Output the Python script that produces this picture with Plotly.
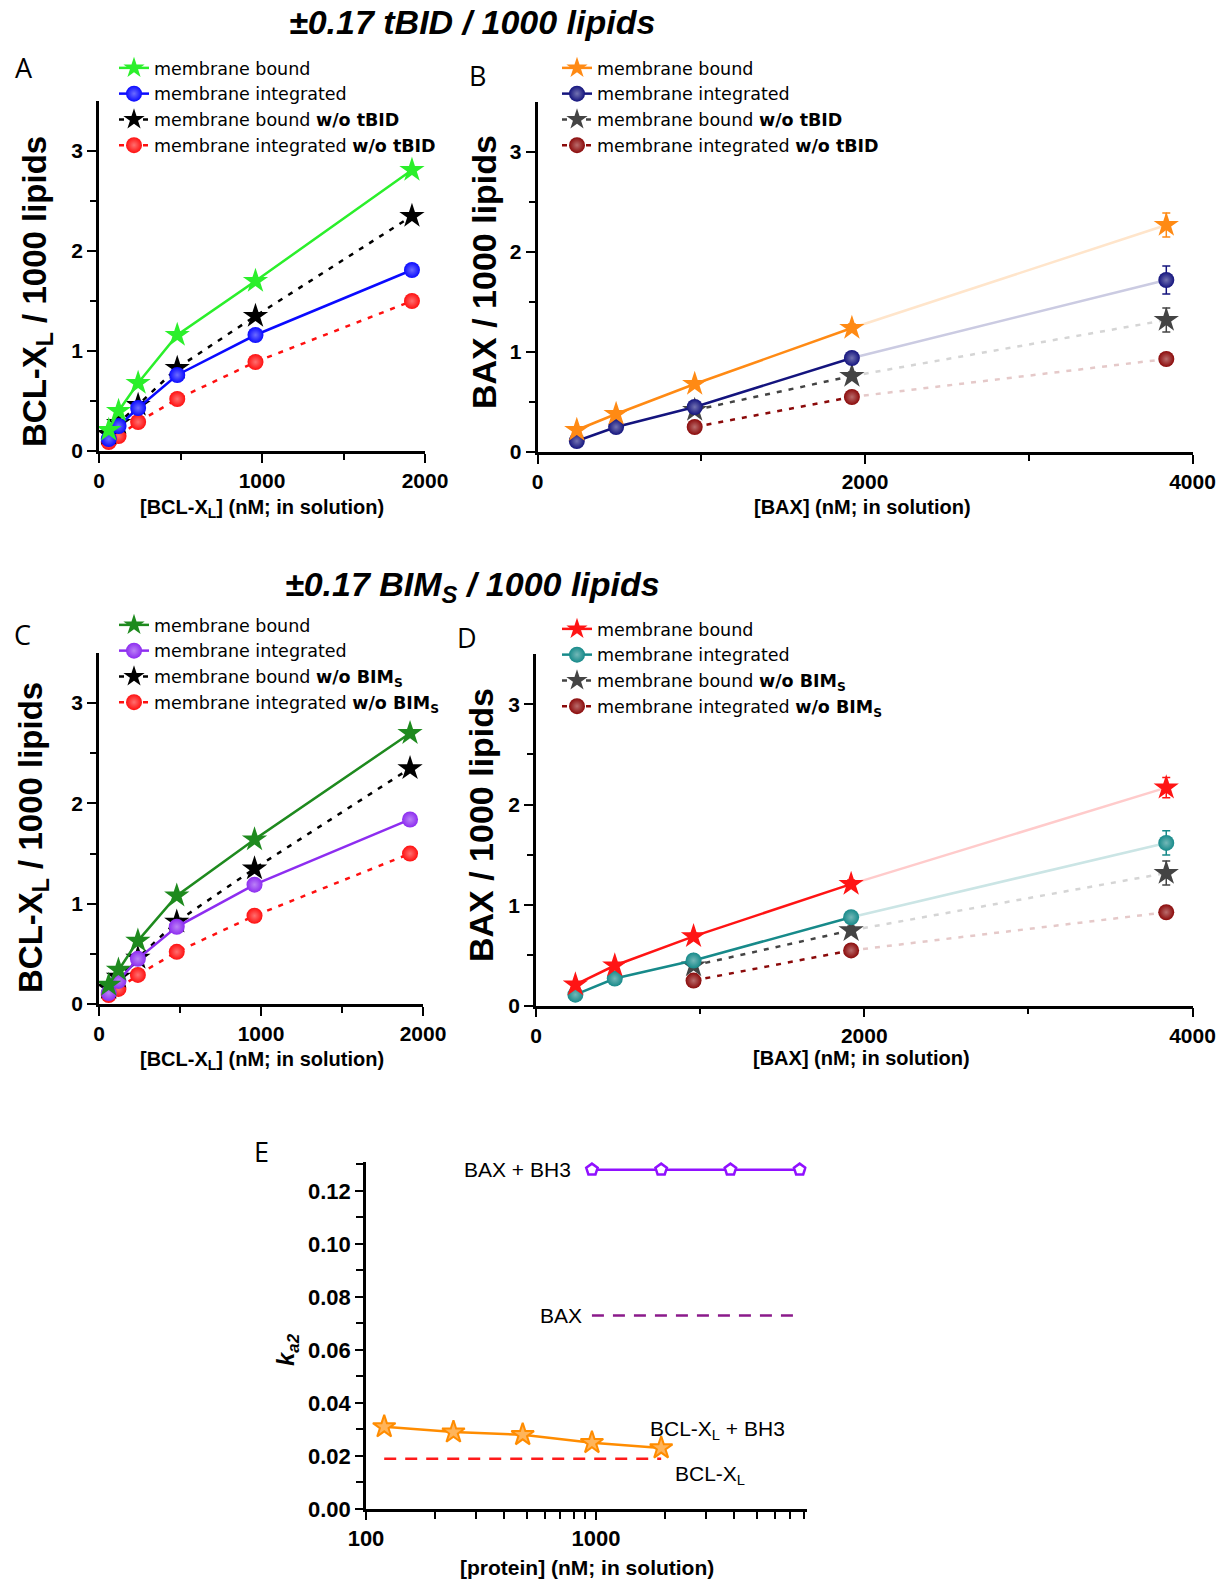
import plotly.graph_objects as go

W, H = 1224, 1585
def fx(x): return x / W
def fy(y): return 1 - y / H

# ---------------- data ----------------
bclxl_conc = [60, 120, 240, 480, 960, 1920]
bax_conc = [240, 480, 960, 1920, 3840]
bax_conc_wo = [960, 1920, 3840]

# Panel A (+/- tBID), BCL-XL
A_bound = [0.21, 0.40, 0.68, 1.16, 1.70, 2.81]
A_integrated = [0.12, 0.25, 0.43, 0.76, 1.16, 1.81]
A_bound_wo = [0.17, 0.28, 0.46, 0.83, 1.35, 2.35]
A_integrated_wo = [0.09, 0.15, 0.29, 0.52, 0.89, 1.50]

# Panel B (+/- tBID), BAX
B_bound = [0.22, 0.38, 0.68, 1.24, 2.27]
B_bound_err = [0.02, 0.02, 0.03, 0.04, 0.12]
B_integrated = [0.11, 0.25, 0.45, 0.94, 1.72]
B_integrated_err = [0.02, 0.02, 0.03, 0.04, 0.14]
B_bound_wo = [0.42, 0.76, 1.32]
B_bound_wo_err = [0.03, 0.04, 0.12]
B_integrated_wo = [0.25, 0.55, 0.93]
B_integrated_wo_err = [0.02, 0.03, 0.05]

# Panel C (+/- BIMs), BCL-XL
C_bound = [0.19, 0.34, 0.63, 1.08, 1.64, 2.70]
C_integrated = [0.11, 0.23, 0.45, 0.77, 1.19, 1.84]
C_bound_wo = [0.16, 0.27, 0.46, 0.82, 1.35, 2.35]
C_integrated_wo = [0.09, 0.15, 0.29, 0.52, 0.88, 1.50]

# Panel D (+/- BIMs), BAX
D_bound = [0.21, 0.40, 0.69, 1.21, 2.17]
D_bound_err = [0.02, 0.02, 0.03, 0.04, 0.10]
D_integrated = [0.11, 0.27, 0.45, 0.88, 1.62]
D_integrated_err = [0.02, 0.02, 0.03, 0.04, 0.12]
D_bound_wo = [0.40, 0.75, 1.32]
D_bound_wo_err = [0.03, 0.04, 0.12]
D_integrated_wo = [0.25, 0.55, 0.93]
D_integrated_wo_err = [0.02, 0.03, 0.05]

# Panel E: ka2 vs protein concentration
E_bax_conc = [960, 1920, 3840, 7680]
E_bax_bh3 = [0.128, 0.128, 0.128, 0.128]
E_bax = [0.073, 0.073, 0.073, 0.073]
E_bcl_conc = [120, 240, 480, 960, 1920]
E_bcl_bh3 = [0.031, 0.029, 0.028, 0.025, 0.023]
E_bcl = [0.019, 0.019, 0.019, 0.019, 0.019]

FONT = "Liberation Sans, Arial, sans-serif"
LEGFONT = "DejaVu Sans, Liberation Sans, sans-serif"

def tint(hexc, f):
    h = hexc.lstrip('#')
    r, g, b = int(h[0:2], 16), int(h[2:4], 16), int(h[4:6], 16)
    r = int(r + (255 - r) * f); g = int(g + (255 - g) * f); b = int(b + (255 - b) * f)
    return f"#{r:02x}{g:02x}{b:02x}"

fig = go.Figure()

def sphere(color, size=16):
    return dict(symbol="circle", size=size, color=color, line=dict(width=0),
                gradient=dict(type="radial", color=tint(color, 0.4)))

def starm(color, size=19):
    return dict(symbol="star", size=size, color=color, line=dict(width=0))

SOLID = 2.5
DOT = "5px,7px"

def bcl_panel(xa, ya, leg, x, bound, integ, bwo, iwo, cb, ci, cbwo, ciwo, wo_txt):
    fig.add_trace(go.Scatter(x=x, y=iwo, mode="lines+markers", xaxis=xa, yaxis=ya,
        line=dict(color=ciwo, width=SOLID, dash=DOT), marker=sphere(ciwo),
        name="membrane integrated <b>" + wo_txt + "</b>", legend=leg, legendrank=4))
    fig.add_trace(go.Scatter(x=x, y=bwo, mode="lines+markers", xaxis=xa, yaxis=ya,
        line=dict(color=cbwo, width=SOLID, dash=DOT), marker=starm(cbwo),
        name="membrane bound <b>" + wo_txt + "</b>", legend=leg, legendrank=3))
    fig.add_trace(go.Scatter(x=x, y=integ, mode="lines+markers", xaxis=xa, yaxis=ya,
        line=dict(color=ci, width=SOLID), marker=sphere(ci),
        name="membrane integrated", legend=leg, legendrank=2))
    fig.add_trace(go.Scatter(x=x, y=bound, mode="lines+markers", xaxis=xa, yaxis=ya,
        line=dict(color=cb, width=SOLID), marker=starm(cb),
        name="membrane bound", legend=leg, legendrank=1))

def bax_panel(xa, ya, leg, x, xwo, bound, be, integ, ie, bwo, bwe, iwo, iwe,
              cb, ci, cbwo, ciwo, wo_txt):
    n = len(x) - 1
    m = len(xwo) - 1
    # faded last segments
    for xs, ys, c, d in [(xwo[m-1:], iwo[m-1:], ciwo, DOT), (xwo[m-1:], bwo[m-1:], cbwo, DOT),
                         (x[n-1:], integ[n-1:], ci, None), (x[n-1:], bound[n-1:], cb, None)]:
        fig.add_trace(go.Scatter(x=xs, y=ys, mode="lines", xaxis=xa, yaxis=ya,
            line=dict(color=tint(c, 0.78), width=SOLID, dash=d), showlegend=False,
            hoverinfo="skip", legend=leg))
    def err(arr, c):
        return dict(type="data", array=arr, color=c, thickness=1.5, width=4)
    specs = [
        (xwo, iwo, iwe, ciwo, DOT, sphere(ciwo), "membrane integrated <b>" + wo_txt + "</b>", 4),
        (xwo, bwo, bwe, cbwo, DOT, starm(cbwo), "membrane bound <b>" + wo_txt + "</b>", 3),
        (x, integ, ie, ci, None, sphere(ci), "membrane integrated", 2),
        (x, bound, be, cb, None, starm(cb), "membrane bound", 1),
    ]
    for xs, ys, es, c, d, mk, nm, rk in specs:
        k = len(xs) - 1
        fig.add_trace(go.Scatter(x=xs[:k], y=ys[:k], mode="lines+markers", xaxis=xa, yaxis=ya,
            line=dict(color=c, width=SOLID, dash=d), marker=mk, error_y=err(es[:k], c),
            name=nm, legend=leg, legendrank=rk))
        fig.add_trace(go.Scatter(x=xs[k:], y=ys[k:], mode="markers", xaxis=xa, yaxis=ya,
            marker=mk, error_y=err(es[k:], c), showlegend=False, legend=leg))

# Panel A
bcl_panel("x", "y", "legend", bclxl_conc, A_bound, A_integrated, A_bound_wo, A_integrated_wo,
          "#2bef2b", "#0a0aff", "#000000", "#ff1010", "w/o tBID")
# Panel B
bax_panel("x2", "y2", "legend2", bax_conc, bax_conc_wo, B_bound, B_bound_err, B_integrated,
          B_integrated_err, B_bound_wo, B_bound_wo_err, B_integrated_wo, B_integrated_wo_err,
          "#ff8a14", "#14147e", "#444444", "#8b0a0a", "w/o tBID")
# Panel C
bcl_panel("x3", "y3", "legend3", bclxl_conc, C_bound, C_integrated, C_bound_wo, C_integrated_wo,
          "#1e8a1e", "#8d2df0", "#000000", "#ff1010", "w/o BIM<sub>S</sub>")
# Panel D
bax_panel("x4", "y4", "legend4", bax_conc, bax_conc_wo, D_bound, D_bound_err, D_integrated,
          D_integrated_err, D_bound_wo, D_bound_wo_err, D_integrated_wo, D_integrated_wo_err,
          "#ff1414", "#178a8a", "#444444", "#8b0a0a", "w/o BIM<sub>S</sub>")

# Panel E
fig.add_trace(go.Scatter(x=E_bcl_conc, y=E_bcl, mode="lines", xaxis="x5", yaxis="y5",
    line=dict(color="#ff1a1a", width=2.5, dash="12px,9px"), showlegend=False, name="BCL-XL"))
fig.add_trace(go.Scatter(x=E_bax_conc, y=E_bax, mode="lines", xaxis="x5", yaxis="y5",
    line=dict(color="#8b1a8b", width=2.5, dash="12px,9px"), showlegend=False, name="BAX"))
fig.add_trace(go.Scatter(x=E_bcl_conc, y=E_bcl_bh3, mode="lines+markers", xaxis="x5", yaxis="y5",
    line=dict(color="#ff8c00", width=2.5),
    marker=dict(symbol="star", size=17, color="#ffb45a", line=dict(color="#ff8c00", width=2)),
    showlegend=False, name="BCL-XL + BH3"))
fig.add_trace(go.Scatter(x=E_bax_conc, y=E_bax_bh3, mode="lines+markers", xaxis="x5", yaxis="y5",
    line=dict(color="#9010ff", width=2.5),
    marker=dict(symbol="pentagon", size=12, color="white", line=dict(color="#9010ff", width=2.5)),
    showlegend=False, name="BAX + BH3"))

tickfont = dict(family=FONT, size=21, color="black", weight="bold")

def lin_axes(xl, xr, yb, yt, xmax, xmajor, xminor):
    xa = dict(domain=[fx(xl), fx(xr)], range=[0, xmax], tickvals=xmajor, automargin=False,
              ticks="outside", ticklen=9, tickwidth=2, tickcolor="black",
              showline=True, linewidth=2.5, linecolor="black", showgrid=False, zeroline=False,
              tickfont=tickfont, fixedrange=True,
              minor=dict(tickvals=xminor, ticks="outside", ticklen=6, tickwidth=2, tickcolor="black"))
    ya = dict(domain=[fy(yb), fy(yt)], range=[0, 3.5], tickvals=[0, 1, 2, 3], automargin=False,
              ticks="outside", ticklen=9, tickwidth=2, tickcolor="black",
              showline=True, linewidth=2.5, linecolor="black", showgrid=False, zeroline=False,
              tickfont=tickfont, fixedrange=True,
              minor=dict(tickvals=[0.5, 1.5, 2.5], ticks="outside", ticklen=6, tickwidth=2,
                         tickcolor="black"))
    return xa, ya

xa1, ya1 = lin_axes(99, 425, 451, 101, 2000, [0, 1000, 2000], [500, 1500])
xa2, ya2 = lin_axes(537.5, 1192.5, 452, 102, 4000, [0, 2000, 4000], [1000, 3000])
xa3, ya3 = lin_axes(99, 423, 1004, 653, 2000, [0, 1000, 2000], [500, 1500])
xa4, ya4 = lin_axes(536, 1192.5, 1005.7, 654, 4000, [0, 2000, 4000], [1000, 3000])
ya1["anchor"] = "x"; xa1["anchor"] = "y"
ya2["anchor"] = "x2"; xa2["anchor"] = "y2"
ya3["anchor"] = "x3"; xa3["anchor"] = "y3"
ya4["anchor"] = "x4"; xa4["anchor"] = "y4"

E_minor_x = [200, 300, 400, 500, 600, 700, 800, 900, 2000, 3000, 4000, 5000, 6000, 7000, 8000]
xa5 = dict(domain=[fx(366), fx(806.7)], type="log", range=[2, 3.916], tickvals=[100, 1000],
           ticktext=["100", "1000"], ticks="outside", ticklen=8, tickwidth=2, tickcolor="black",
           showline=True, linewidth=2.5, linecolor="black", showgrid=False, zeroline=False,
           tickfont=dict(family=FONT, size=22, color="black", weight="bold"), anchor="y5",
           fixedrange=True, automargin=False,
           minor=dict(tickvals=E_minor_x, ticks="outside", ticklen=7, tickwidth=2, tickcolor="black"))
ya5 = dict(domain=[fy(1509), fy(1161.7)], range=[0, 0.131],
           tickvals=[0, 0.02, 0.04, 0.06, 0.08, 0.10, 0.12], tickformat=".2f",
           ticks="outside", ticklen=8, tickwidth=2, tickcolor="black",
           showline=True, linewidth=2.5, linecolor="black", showgrid=False, zeroline=False,
           tickfont=dict(family=FONT, size=22, color="black", weight="bold"), anchor="x5",
           fixedrange=True, automargin=False,
           minor=dict(tickvals=[0.01, 0.03, 0.05, 0.07, 0.09, 0.11, 0.13], ticks="outside",
                      ticklen=7, tickwidth=2, tickcolor="black"))

def legend_at(x, y):
    return dict(x=fx(x), y=fy(y), xanchor="left", yanchor="top", bgcolor="rgba(0,0,0,0)",
                borderwidth=0, font=dict(family=LEGFONT, size=17.5, color="black"),
                tracegroupgap=0, traceorder="normal", itemclick=False, itemdoubleclick=False)

annotations = []
def ann(text, x, y, size=20, angle=0, xanchor="center", yanchor="middle", family=FONT, color="black"):
    annotations.append(dict(text=text, x=fx(x), y=fy(y), xref="paper", yref="paper",
                            showarrow=False, textangle=angle, xanchor=xanchor, yanchor=yanchor,
                            font=dict(family=family, size=size, color=color)))

# titles
ann("<b><i>±0.17 tBID / 1000 lipids</i></b>", 472, 22, size=34)
ann("<b><i>±0.17 BIM<sub>S</sub> / 1000 lipids</i></b>", 472, 586, size=34)
# panel letters
LET = "Open Sans, Liberation Sans, sans-serif"
ann("A", 24, 67, size=27, family=LET)
ann("B", 477, 75, size=27, family=LET)
ann("C", 22, 635, size=27, family=LET)
ann("D", 467, 637, size=27, family=LET)
ann("E", 261, 1151, size=27, family=LET)
# y titles
ann("<b>BCL-X<sub>L</sub> / 1000 lipids</b>", 37, 292, size=33, angle=-90)
ann("<b>BAX / 1000 lipids</b>", 484, 272, size=34, angle=-90)
ann("<b>BCL-X<sub>L</sub> / 1000 lipids</b>", 33, 838, size=33, angle=-90)
ann("<b>BAX / 1000 lipids</b>", 481, 825, size=34, angle=-90)
ann("<b><i>k<sub>a2</sub></i></b>", 287, 1350, size=24, angle=-90)
# x titles
ann("<b>[BCL-X<sub>L</sub>] (nM; in solution)</b>", 262, 509)
ann("<b>[BAX] (nM; in solution)</b>", 862, 507)
ann("<b>[BCL-X<sub>L</sub>] (nM; in solution)</b>", 262, 1060)
ann("<b>[BAX] (nM; in solution)</b>", 861, 1058)
ann("<b>[protein] (nM; in solution)</b>", 587, 1567, size=21)
# panel E labels
ann("BAX + BH3", 573, 1169, size=21, xanchor="right")
ann("BAX", 584, 1315, size=21, xanchor="right")
ann("BCL-X<sub>L</sub> + BH3", 648, 1430, size=21, xanchor="left")
ann("BCL-X<sub>L</sub>", 673, 1475, size=21, xanchor="left")

fig.update_layout(
    width=W, height=H, margin=dict(l=0, r=0, t=0, b=0, autoexpand=False),
    paper_bgcolor="white", plot_bgcolor="white",
    font=dict(family=FONT, size=20, color="black"),
    xaxis=xa1, yaxis=ya1, xaxis2=xa2, yaxis2=ya2, xaxis3=xa3, yaxis3=ya3,
    xaxis4=xa4, yaxis4=ya4, xaxis5=xa5, yaxis5=ya5,
    legend=legend_at(114, 50), legend2=legend_at(557, 50),
    legend3=legend_at(114, 607), legend4=legend_at(557, 611),
    annotations=annotations, showlegend=True,
)

fig.write_html("out.html")
